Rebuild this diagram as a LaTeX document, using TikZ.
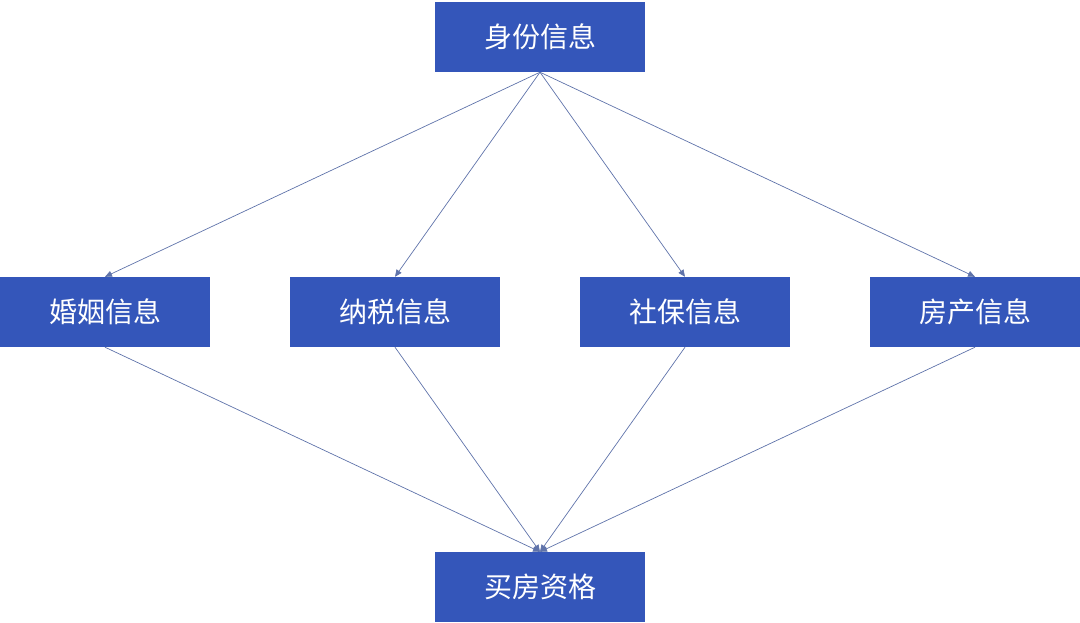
\documentclass[tikz,border=0pt]{standalone}
\usepackage{fontspec}
\newfontfamily\cjk{Noto Sans CJK SC}
\usetikzlibrary{arrows.meta}
\definecolor{boxblue}{RGB}{52,86,186}
\definecolor{linecol}{RGB}{95,115,170}
\tikzset{
  infobox/.style={fill=boxblue, draw=none, minimum width=210pt, minimum height=70pt, inner sep=0pt, text=white, font=\cjk\fontsize{28}{30}\selectfont},
  link/.style={draw=linecol, line width=0.7pt, -{Triangle[length=7pt,width=6pt]}}
}
\begin{document}
\begin{tikzpicture}[x=1pt,y=-1pt]
\useasboundingbox (0,0) rectangle (1080,622);
\node[infobox] (id) at (540,37) {身份信息};
\node[infobox] (hy) at (105,312) {婚姻信息};
\node[infobox] (ns) at (395,312) {纳税信息};
\node[infobox] (sb) at (685,312) {社保信息};
\node[infobox] (fc) at (975,312) {房产信息};
\node[infobox] (mf) at (540,587) {买房资格};
\foreach \t in {hy,ns,sb,fc}{
  \draw[link] (id.south) -- (\t.north);
  \draw[link] (\t.south) -- (mf.north);
}
\end{tikzpicture}
\end{document}
